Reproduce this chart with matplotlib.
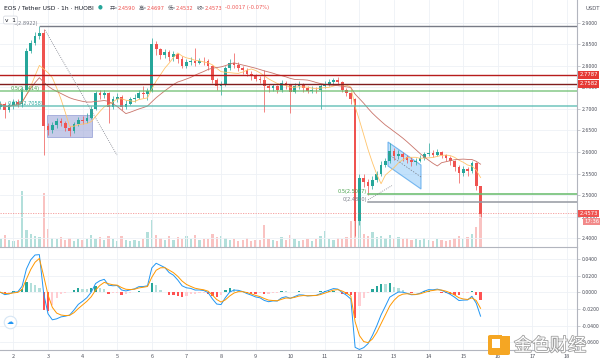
import numpy as np
import pandas as pd
import matplotlib.pyplot as plt
import matplotlib.patheffects as pe
from matplotlib.patches import Rectangle, Polygon, FancyBboxPatch
from matplotlib.transforms import blended_transform_factory

plt.rcParams['font.family'] = ['Noto Sans CJK SC', 'DejaVu Sans']

# 3h candles, time = hours since day 1 00:00
t_start = 15
t_step = 3
open_first = 2.705
close = [2.712, 2.698, 2.708, 2.716, 2.712, 2.745, 2.835, 2.852, 2.870, 2.876,
         2.660, 2.650, 2.662, 2.672, 2.668, 2.655, 2.648, 2.664, 2.675, 2.672,
         2.680, 2.700, 2.736, 2.732, 2.738, 2.705, 2.722, 2.728, 2.704, 2.712,
         2.722, 2.726, 2.738, 2.735, 2.742, 2.850, 2.838, 2.826, 2.832, 2.820,
         2.828, 2.815, 2.800, 2.808, 2.812, 2.806, 2.812, 2.810, 2.800, 2.768,
         2.752, 2.758, 2.795, 2.806, 2.802, 2.796, 2.790, 2.782, 2.778, 2.770,
         2.768, 2.752, 2.748, 2.752, 2.745, 2.760, 2.755, 2.740, 2.752, 2.756,
         2.748, 2.742, 2.745, 2.744, 2.752, 2.758, 2.762, 2.768, 2.762, 2.745,
         2.738, 2.722, 2.440, 2.540, 2.530, 2.522, 2.535, 2.548, 2.570, 2.580,
         2.602, 2.590, 2.596, 2.588, 2.582, 2.576, 2.580, 2.586, 2.595, 2.598,
         2.594, 2.600, 2.592, 2.585, 2.578, 2.566, 2.552, 2.560, 2.556, 2.574,
         2.520, 2.457]
high = [2.718, 2.715, 2.714, 2.722, 2.724, 2.750, 2.842, 2.860, 2.878, 2.892,
        2.885, 2.668, 2.670, 2.680, 2.678, 2.672, 2.660, 2.670, 2.682, 2.684,
        2.690, 2.706, 2.742, 2.744, 2.745, 2.740, 2.730, 2.736, 2.732, 2.720,
        2.728, 2.734, 2.745, 2.752, 2.748, 2.865, 2.858, 2.842, 2.840, 2.836,
        2.834, 2.830, 2.822, 2.815, 2.820, 2.842, 2.818, 2.820, 2.815, 2.802,
        2.772, 2.765, 2.800, 2.816, 2.830, 2.808, 2.800, 2.794, 2.788, 2.782,
        2.776, 2.790, 2.758, 2.758, 2.756, 2.767, 2.764, 2.758, 2.760, 2.764,
        2.760, 2.752, 2.752, 2.750, 2.758, 2.765, 2.770, 2.772, 2.774, 2.765,
        2.748, 2.740, 2.726, 2.548, 2.548, 2.538, 2.545, 2.556, 2.578, 2.586,
        2.620, 2.610, 2.604, 2.600, 2.594, 2.588, 2.586, 2.592, 2.600, 2.620,
        2.604, 2.606, 2.602, 2.596, 2.590, 2.582, 2.570, 2.568, 2.565, 2.580,
        2.576, 2.522]
low = [2.700, 2.680, 2.692, 2.700, 2.705, 2.705, 2.742, 2.830, 2.848, 2.862,
       2.592, 2.640, 2.643, 2.655, 2.660, 2.648, 2.636, 2.645, 2.660, 2.664,
       2.668, 2.676, 2.698, 2.722, 2.725, 2.668, 2.700, 2.715, 2.698, 2.700,
       2.710, 2.716, 2.722, 2.726, 2.720, 2.740, 2.826, 2.815, 2.818, 2.812,
       2.812, 2.806, 2.794, 2.796, 2.802, 2.800, 2.804, 2.802, 2.790, 2.760,
       2.744, 2.733, 2.752, 2.790, 2.796, 2.788, 2.782, 2.776, 2.768, 2.764,
       2.760, 2.693, 2.740, 2.742, 2.738, 2.740, 2.746, 2.690, 2.738, 2.746,
       2.740, 2.736, 2.737, 2.738, 2.700, 2.748, 2.752, 2.756, 2.755, 2.740,
       2.730, 2.712, 2.405, 2.430, 2.518, 2.500, 2.515, 2.530, 2.545, 2.566,
       2.575, 2.582, 2.584, 2.578, 2.574, 2.568, 2.570, 2.576, 2.582, 2.590,
       2.588, 2.590, 2.585, 2.578, 2.570, 2.556, 2.528, 2.545, 2.544, 2.552,
       2.512, 2.450]
volume = [1.5, 2.2, 1.2, 1.0, 1.3, 10.0, 3.0, 2.4, 2.0, 1.8,
          9.6, 3.2, 1.6, 1.4, 1.8, 1.2, 1.6, 1.0, 1.4, 1.2,
          1.5, 2.2, 1.4, 1.8, 1.2, 2.0, 1.5, 1.1, 1.9, 1.2,
          1.0, 1.3, 1.1, 1.5, 2.6, 4.8, 2.2, 1.6, 1.3, 2.0,
          1.2, 1.8, 1.4, 2.0, 1.5, 2.2, 1.2, 1.5, 1.4, 2.4,
          1.8, 2.0, 1.6, 1.2, 1.5, 1.0, 1.2, 1.6, 1.0, 1.3,
          1.2, 4.0, 1.5, 1.2, 1.0, 1.8, 1.2, 2.2, 1.4, 1.0,
          1.2, 1.5, 1.0, 1.4, 2.0, 2.8, 1.5, 1.2, 1.6, 1.4,
          1.8, 4.6, 8.5, 5.2, 2.4, 2.0, 2.6, 1.8, 2.0, 1.6,
          2.2, 1.5, 1.8, 1.4, 1.6, 1.2, 1.5, 1.3, 1.6, 1.2,
          1.0, 1.4, 1.2, 1.0, 1.3, 1.6, 2.0, 1.4, 1.8, 2.4,
          3.5, 7.0]

days = list(range(2, 19))
price_ticks = [2.40, 2.45, 2.50, 2.55, 2.60, 2.65, 2.70, 2.75, 2.80, 2.85, 2.90]
macd_ticks = [0.04, 0.02, 0.0, -0.02, -0.04, -0.06]

# drawings on the chart
fib_left = [(0, 2.8922), (0.5, 2.7414), (0.618, 2.7058)]
fib_right = [(0.5, 2.5017), (0, 2.4830)]
red_levels = [2.7787, 2.7582]
last_price = 2.4573
header_vals = [('开', '2.4590'), ('高', '2.4697'), ('低', '2.4532'), ('收', '2.4573')]
header_chg = '-0.0017 (-0.07%)'

UP, DOWN = '#26A69A', '#EF5350'

n = len(close)
t = t_start + t_step * np.arange(n)
c = np.array(close)
o = np.array([open_first] + close[:-1])
h = np.array(high)
l = np.array(low)
up = c >= o
cols = np.where(up, UP, DOWN)

s = pd.Series(c)
ma_fast = s.rolling(7, min_periods=1).mean()
ma_slow = s.rolling(20, min_periods=1).mean()
dif = s.ewm(span=4, adjust=False).mean() - s.ewm(span=9, adjust=False).mean()
dea = dif.ewm(span=3, adjust=False).mean()
hist = (dif - dea).values

fig = plt.figure(figsize=(6, 3.63), dpi=100)
ax = fig.add_axes([0, 0.3196, 0.9617, 0.6804])
axm = fig.add_axes([0, 0.0358, 0.9617, 0.2838], sharex=ax)
axv = ax.twinx()
ax.set_zorder(2)
axv.set_zorder(1)
ax.patch.set_visible(False)

xlim = (14.7, 414.9)
ax.set_xlim(*xlim)
ax.set_ylim(2.3796, 2.9527)
axv.set_ylim(0, 44)
axv.axis('off')
axm.set_ylim(-0.0691, 0.05425)

grid_c = '#EEF1F6'
for a in (ax, axm):
    for d in days:
        a.axvline((d - 1) * 24, color=grid_c, lw=0.6, zorder=0)
for p in price_ticks:
    ax.axhline(p, color=grid_c, lw=0.6, zorder=0)
for m in macd_ticks:
    axm.axhline(m, color=grid_c, lw=0.6, zorder=0)

# volume
axv.bar(t, volume, width=1.6, color=cols, alpha=0.35, linewidth=0)

# candles
ax.vlines(t, l, h, colors=cols, lw=0.5, zorder=3)
ax.bar(t, np.abs(c - o), bottom=np.minimum(o, c), width=1.9, color=cols,
       linewidth=0, zorder=4)
ax.plot(t, ma_fast, color='#FFC46B', lw=0.6, zorder=5)
ax.plot(t, ma_slow, color='#C9746A', lw=0.6, zorder=5)

# fib drawings
txt_kw = dict(fontsize=3.6, va='bottom', zorder=7, family=['DejaVu Sans'])
ax.plot([42.4, xlim[1]], [fib_left[0][1]] * 2, color='#787B86', lw=1.0, zorder=6)
ax.text(41, fib_left[0][1] + 0.001, f'{fib_left[0][0]}({fib_left[0][1]:.4f})',
        ha='right', color='#787B86', **txt_kw)
ax.plot(xlim, [fib_left[1][1]] * 2, color='#66BB6A', lw=1.1, alpha=0.8, zorder=6)
ax.text(22, fib_left[1][1] + 0.001, f'{fib_left[1][0]}({fib_left[1][1]:.4f})',
        ha='left', color='#43A047', **txt_kw)
ax.plot(xlim, [fib_left[2][1]] * 2, color='#4DB6AC', lw=1.1, alpha=0.8, zorder=6)
ax.text(20, fib_left[2][1] + 0.001, f'{fib_left[2][0]}({fib_left[2][1]:.4f})',
        ha='left', color='#26A69A', **txt_kw)

ax.plot([270, xlim[1]], [fib_right[0][1]] * 2, color='#66BB6A', lw=1.1, zorder=6)
ax.text(269, fib_right[0][1] + 0.001, f'{fib_right[0][0]}({fib_right[0][1]:.4f})',
        ha='right', color='#43A047', **txt_kw)
ax.plot([270, xlim[1]], [fib_right[1][1]] * 2, color='#9598A1', lw=1.1, zorder=6)
ax.text(269, fib_right[1][1] + 0.001, f'{fib_right[1][0]}({fib_right[1][1]:.4f})',
        ha='right', color='#787B86', **txt_kw)

ax.axhline(red_levels[0], color='#B71C1C', lw=1.0, zorder=6)
ax.axhline(red_levels[1], color='#7F1D1D', lw=1.0, zorder=6)
ax.axhline(last_price, color='#EF5350', lw=0.6, ls=(0, (1.5, 1.5)), alpha=0.6, zorder=6)

# shapes
ax.add_patch(Rectangle((47.3, 2.635), 31.2, 0.051, facecolor='#9FA8DA', alpha=0.6,
                       edgecolor='#5C6BC0', lw=0.5, zorder=2))
ax.add_patch(Polygon([(283.8, 2.6232), (306.7, 2.5698), (306.7, 2.5141), (283.8, 2.5675)],
                     closed=True, facecolor='#90CAF9', alpha=0.55, edgecolor='#1E88E5',
                     lw=0.8, zorder=2))
ax.plot([283.8, 306.7], [2.5954, 2.542], color='#787B86', lw=0.5, ls=(0, (2, 2)), zorder=6)
ax.plot([45.9, 95.8], [2.883, 2.593], color='#787B86', lw=0.6, ls=(0, (1, 1.5)), zorder=6)
ax.plot([270, 286.5], [2.489, 2.522], color='#787B86', lw=0.6, ls=(0, (1, 1.5)), zorder=6)

# MACD panel
hcols = []
for i, v in enumerate(hist):
    prev = hist[i - 1] if i else 0
    if v >= 0:
        hcols.append('#26A69A' if v >= prev else '#B2DFDB')
    else:
        hcols.append('#FF5252' if v < prev else '#FFCDD2')
axm.bar(t, hist, width=1.6, color=hcols, linewidth=0, zorder=2)
axm.plot(t, dif, color='#2196F3', lw=0.7, zorder=3)
axm.plot(t, dea, color='#FF9800', lw=0.7, zorder=3)

# axes styling
axis_c = '#B2B5BE'
lab_c = '#50535E'
for a in (ax, axm):
    for side in ('top', 'left'):
        a.spines[side].set_visible(False)
    a.spines['right'].set_color(axis_c)
    a.spines['bottom'].set_color(axis_c)
    a.spines['right'].set_linewidth(0.8)
    a.spines['bottom'].set_linewidth(0.8)
    a.yaxis.tick_right()
    a.tick_params(axis='y', length=2, width=0.5, color=axis_c, labelsize=3.8,
                  labelcolor=lab_c, pad=1.5)

ax.set_yticks(price_ticks)
ax.set_yticklabels([f'{p:.4f}' for p in price_ticks])
axm.set_yticks(macd_ticks)
axm.set_yticklabels([f'{m:.4f}' for m in macd_ticks])
ax.tick_params(axis='x', bottom=False, labelbottom=False)
axm.set_xticks([(d - 1) * 24 for d in days])
axm.set_xticklabels([str(d) for d in days])
axm.tick_params(axis='x', length=0, labelsize=4.0, labelcolor=lab_c, pad=3)

# price labels on the axis
tr = blended_transform_factory(ax.transAxes, ax.transData)
box_kw = dict(fontsize=3.8, color='white', ha='left', va='center', transform=tr,
              zorder=10, family=['DejaVu Sans'])
ax.text(1.004, red_levels[0], f'{red_levels[0]:.4f}',
        bbox=dict(boxstyle='square,pad=0.25', fc='#E53935', ec='none'), **box_kw)
ax.text(1.004, red_levels[1], f'{red_levels[1]:.4f}',
        bbox=dict(boxstyle='square,pad=0.25', fc='#E53935', ec='none'), **box_kw)
ax.text(1.004, last_price, f'{last_price:.4f}',
        bbox=dict(boxstyle='square,pad=0.25', fc='#EF5350', ec='none'), **box_kw)
ax.text(1.012, last_price - 0.0185, '17:36',
        bbox=dict(boxstyle='square,pad=0.25', fc='#F28A8A', ec='none'), **box_kw)
fig.text(585 / 600, 1 - 8 / 363, 'USDT', fontsize=3.8, color=lab_c, va='center',
         family=['DejaVu Sans'])

# header, laid out left to right
renderer = fig.canvas.get_renderer()
hy = 1 - 8 / 363


def put(xpix, text, color, size, fam=None):
    kw = dict(fontsize=size, color=color, va='center')
    if fam:
        kw['family'] = fam
    tx = fig.text(xpix / 600, hy, text, **kw)
    return tx.get_window_extent(renderer).x1


put(4, 'EOS / Tether USD · 1h · HUOBI', '#131722', 4.3, ['DejaVu Sans'])
fig.text(100 / 600, hy + 0.002, '●', fontsize=4.0, color='#26A69A', va='center',
         ha='center', family=['DejaVu Sans'])
xp = 110
for k, v in header_vals:
    xp = put(xp, f'{k}=', '#50535E', 3.7)
    xp = put(xp, v, '#EF5350', 3.7, ['DejaVu Sans']) + 3
put(xp, header_chg, '#EF5350', 3.7, ['DejaVu Sans'])
fig.text(5 / 600, 1 - 20 / 363, 'v  1', fontsize=4.2, color='#131722', va='center',
         family=['DejaVu Sans'],
         bbox=dict(boxstyle='round,pad=0.25', fc='white', ec='#D1D4DC', lw=0.5))

# bottom-left icon
axm.plot([0.018], [0.27], transform=axm.transAxes, marker='o', ms=9, mfc='white',
         mec='#D6E6F5', mew=0.8, zorder=8)
axm.text(0.018, 0.27, '☁', transform=axm.transAxes, fontsize=5, color='#2196F3',
         ha='center', va='center', zorder=9, family=['DejaVu Sans'])

# watermark
fig.patches.append(FancyBboxPatch((488 / 600, 1 - 355 / 363), 22 / 600, 20 / 363,
                                  boxstyle='round,pad=0,rounding_size=0.004',
                                  transform=fig.transFigure, fc='#F5A623', ec='none',
                                  zorder=20))
fig.patches.append(Rectangle((492 / 600, 1 - 348 / 363), 8 / 600, 9 / 363,
                             transform=fig.transFigure, fc='white', ec='none', zorder=21))
fig.patches.append(Rectangle((502 / 600, 1 - 336 / 363), 8 / 600, 4 / 363,
                             transform=fig.transFigure, fc='white', ec='none', zorder=21))
fig.text(514 / 600, 1 - 346 / 363, '金色财经', fontsize=13, color='white', va='center',
         zorder=22, path_effects=[pe.withStroke(linewidth=1.2, foreground='#A0A0A0')])

fig.savefig('out.png', dpi=100, facecolor='white')
